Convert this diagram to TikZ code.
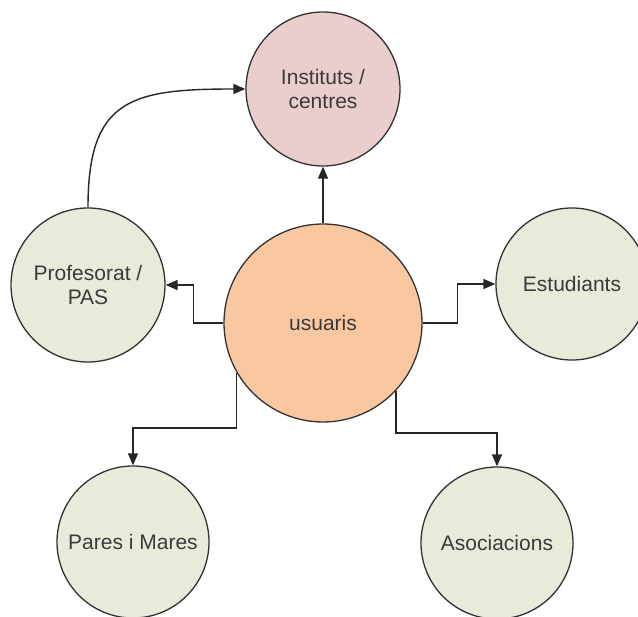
\documentclass[tikz,border=0pt]{standalone}
\usepackage{fontspec}
\setmainfont{Liberation Sans}
\usetikzlibrary{arrows.meta}

\definecolor{pinkfill}{RGB}{234,206,206}
\definecolor{peachfill}{RGB}{250,200,160}
\definecolor{greenfill}{RGB}{233,235,218}
\definecolor{rimcol}{RGB}{50,50,50}
\definecolor{txtcol}{RGB}{58,58,58}

\tikzset{
  bubble/.style={circle, draw=rimcol, line width=1.3pt, inner sep=0pt,
    minimum size=#1, text=txtcol, align=center,
    font=\fontsize{21}{24}\selectfont},
  arr/.style={draw=black!85, line width=1.4pt,
    -{Triangle[length=12pt,width=10pt]}},
}

\begin{document}
\begin{tikzpicture}[x=1pt,y=-1pt]
  \useasboundingbox (0,0) rectangle (638,617);
  \clip (0,0) rectangle (638,617);
  \fill[white] (0,0) rectangle (638,617);

  % the nodes
  \node[bubble=154pt, fill=pinkfill]  (inst) at (323,89)  {Instituts /\\centres};
  \node[bubble=198pt, fill=peachfill] (usr)  at (323,323) {usuaris};
  \node[bubble=154pt, fill=greenfill] (prof) at (88,285)  {Profesorat /\\PAS};
  \node[bubble=152pt, fill=greenfill] (est)  at (572,284) {Estudiants};
  \node[bubble=152pt, fill=greenfill] (pm)   at (133,542) {Pares i Mares};
  \node[bubble=152pt, fill=greenfill] (asoc) at (497,543) {Asociacions};

  % connectors
  \draw[arr] (usr.north) -- (inst.south);
  \draw[arr] (usr.west) -- ++(-30,0) |- (prof.east);
  \draw[arr] (usr.east) -- ++(35,0) |- (est.west);
  \draw[arr] (usr.210) -- ++(0,55) -| (pm.north);
  \draw[arr] (usr.-43) -- ++(0,42) -| (asoc.north);
  \draw[arr] (prof.north) .. controls +(0,-108) and +(-115,0) .. (inst.west);
\end{tikzpicture}
\end{document}
